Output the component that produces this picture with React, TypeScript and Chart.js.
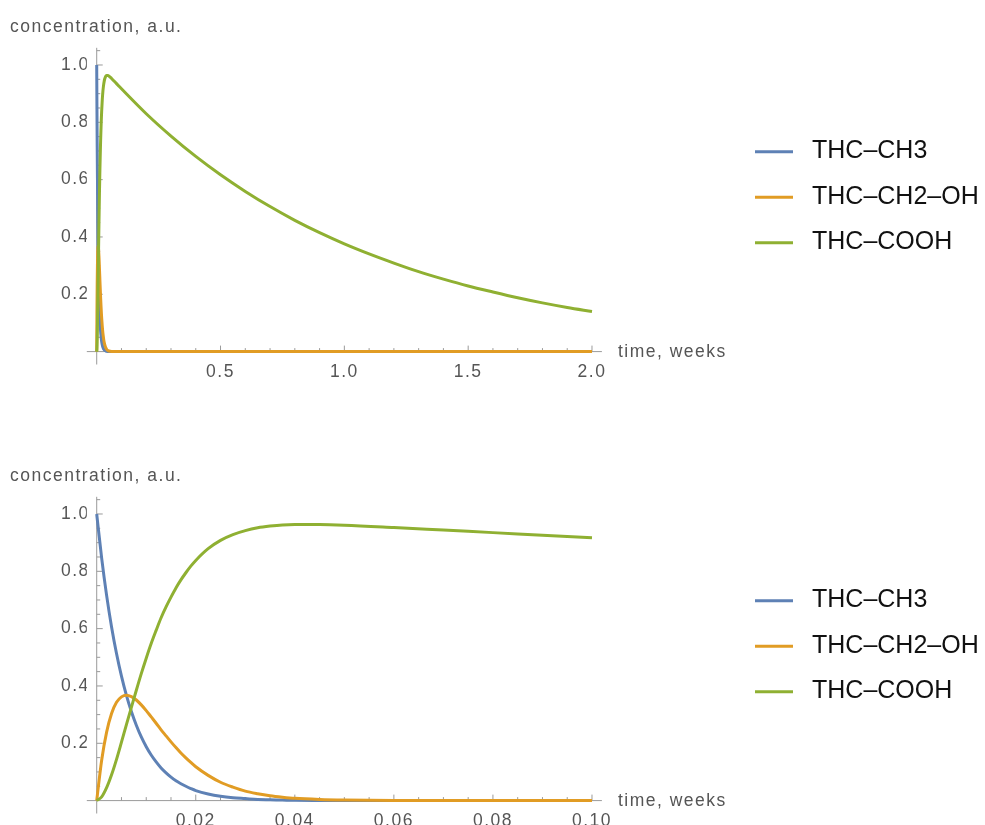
import React, { useEffect, useRef } from "react";
import { Chart, registerables } from "chart.js";

Chart.register(...registerables);

// ---- data ----
const timeWeeks = [
  0, 0.001, 0.002, 0.003, 0.004, 0.005, 0.006, 0.007, 0.008, 0.009, 0.01,
  0.011, 0.012, 0.013, 0.014, 0.015, 0.016, 0.017, 0.018, 0.019, 0.02,
  0.0225, 0.025, 0.0275, 0.03, 0.0325, 0.035, 0.0375, 0.04,
  0.045, 0.05, 0.06, 0.07, 0.08, 0.09, 0.1,
  0.2, 0.3, 0.4, 0.5, 0.6, 0.7, 0.8, 0.9, 1.0, 1.1, 1.2, 1.3, 1.4, 1.5, 1.6,
  1.7, 1.8, 1.9, 2.0,
];
const thcCH3 = [
  1, 0.846, 0.716, 0.606, 0.513, 0.434, 0.367, 0.311, 0.263, 0.222, 0.188,
  0.159, 0.135, 0.114, 0.097, 0.082, 0.069, 0.059, 0.05, 0.042, 0.035,
  0.023, 0.015, 0.01, 0.007, 0.004, 0.003, 0.002, 0.001,
  0.0005, 0.0002, 0, 0, 0, 0, 0,
  0, 0, 0, 0, 0, 0, 0, 0, 0, 0, 0, 0, 0, 0, 0, 0, 0, 0, 0,
];
const thcCH2OH = [
  0, 0.141, 0.239, 0.304, 0.343, 0.362, 0.368, 0.363, 0.351, 0.334, 0.314,
  0.292, 0.27, 0.247, 0.226, 0.205, 0.185, 0.166, 0.149, 0.133, 0.118,
  0.088, 0.064, 0.047, 0.033, 0.024, 0.017, 0.012, 0.008,
  0.004, 0.002, 0.0004, 0.0001, 0, 0, 0,
  0, 0, 0, 0, 0, 0, 0, 0, 0, 0, 0, 0, 0, 0, 0, 0, 0, 0, 0,
];
const thcCOOH = [
  0, 0.013, 0.045, 0.09, 0.144, 0.204, 0.265, 0.325, 0.385, 0.443, 0.497,
  0.548, 0.594, 0.638, 0.676, 0.71, 0.742, 0.77, 0.795, 0.818, 0.838,
  0.879, 0.908, 0.928, 0.942, 0.952, 0.958, 0.962, 0.963,
  0.963, 0.961, 0.953, 0.944, 0.935, 0.926, 0.917,
  0.83, 0.752, 0.681, 0.617, 0.559, 0.506, 0.458, 0.415, 0.376, 0.341,
  0.309, 0.279, 0.253, 0.229, 0.208, 0.188, 0.17, 0.154, 0.14,
];
const seriesLabels = ["THC–CH3", "THC–CH2–OH", "THC–COOH"];
const seriesColors = ["#5E81B5", "#E19C24", "#8FB032"];

const topXTicks = [0.5, 1.0, 1.5, 2.0];
const bottomXTicks = [0.02, 0.04, 0.06, 0.08, 0.1];
const yTicks = [0.2, 0.4, 0.6, 0.8, 1.0];
const yAxisTitle = "concentration, a.u.";
const xAxisTitle = "time, weeks";

// ---- styling ----
const FONT = '"Liberation Sans", Arial, sans-serif';
const GRAY_TEXT = "#555555";
const AXIS_COLOR = "#9a9a9a";

const mmaPlugin = {
  id: "mma",
  beforeDraw(chart: any) {
    (chart.ctx as any).letterSpacing = "1.5px";
  },
  beforeDatasetsDraw(chart: any, _args: any, opts: any) {
    const { ctx, chartArea: ca } = chart;
    const x = chart.scales.x;
    const y = chart.scales.y;
    const x0 = x.getPixelForValue(0);
    const y0 = y.getPixelForValue(0);
    ctx.save();
    ctx.strokeStyle = AXIS_COLOR;
    ctx.lineWidth = 1;
    ctx.beginPath();
    ctx.moveTo(ca.left, y0);
    ctx.lineTo(ca.right, y0);
    ctx.moveTo(x0, ca.top);
    ctx.lineTo(x0, ca.bottom);
    // x ticks (pointing up, into the plot)
    const xMajor: number[] = opts.xTicks;
    for (let i = 1; i * opts.xMinor <= x.max + 1e-12; i++) {
      const v = i * opts.xMinor;
      const isMajor = xMajor.some((m) => Math.abs(m - v) < 1e-9);
      const px = x.getPixelForValue(v);
      ctx.moveTo(px, y0);
      ctx.lineTo(px, y0 - (isMajor ? 6 : 3.5));
    }
    // y ticks (pointing right)
    for (let i = 1; i * 0.05 <= y.max + 1e-12; i++) {
      const v = i * 0.05;
      const isMajor = yTicks.some((m) => Math.abs(m - v) < 1e-9);
      const py = y.getPixelForValue(v);
      ctx.moveTo(x0, py);
      ctx.lineTo(x0 + (isMajor ? 6 : 3.5), py);
    }
    ctx.stroke();
    ctx.restore();
  },
  afterDraw(chart: any) {
    const { ctx, chartArea: ca } = chart;
    const y0 = chart.scales.y.getPixelForValue(0);
    ctx.save();
    (ctx as any).letterSpacing = "1.5px";
    ctx.font = `17.5px ${FONT}`;
    ctx.fillStyle = GRAY_TEXT;
    ctx.textAlign = "left";
    ctx.textBaseline = "alphabetic";
    ctx.fillText(yAxisTitle, 10, 32);
    ctx.fillText(xAxisTitle, ca.right + 16, y0 + 5);
    // legend
    (ctx as any).letterSpacing = "0px";
    ctx.font = `25px ${FONT}`;
    chart.data.datasets.forEach((ds: any, i: number) => {
      const ry = 151.7 + i * 45.5;
      ctx.strokeStyle = ds.borderColor;
      ctx.lineWidth = 3;
      ctx.beginPath();
      ctx.moveTo(755, ry);
      ctx.lineTo(793, ry);
      ctx.stroke();
      ctx.fillStyle = "#111";
      ctx.fillText(ds.label, 812, ry + 6.6);
    });
    ctx.restore();
  },
};

function makeConfig(panel: {
  xMin: number;
  xMax: number;
  xTicks: number[];
  xDecimals: number;
  xMinor: number;
  tMax: number;
}) {
  const idx = timeWeeks
    .map((t, i) => i)
    .filter((i) => timeWeeks[i] <= panel.tMax + 1e-9);
  const series = [thcCH3, thcCH2OH, thcCOOH];
  return {
    type: "line" as const,
    data: {
      datasets: series.map((vals, s) => ({
        label: seriesLabels[s],
        data: idx.map((i) => ({ x: timeWeeks[i], y: vals[i] })),
        borderColor: seriesColors[s],
        backgroundColor: seriesColors[s],
        borderWidth: 3,
        pointRadius: 0,
        fill: false,
        cubicInterpolationMode: "monotone" as const,
        order: 3 - s,
      })),
    },
    options: {
      responsive: false,
      animation: false as const,
      layout: { padding: { left: 46.8, right: 383.1, top: 47.8, bottom: 84.5 } },
      plugins: {
        legend: { display: false },
        tooltip: { enabled: false },
        mma: { xTicks: panel.xTicks, xMinor: panel.xMinor },
      },
      scales: {
        x: {
          type: "linear" as const,
          min: panel.xMin,
          max: panel.xMax,
          position: { y: 0 },
          grid: { display: false },
          border: { display: false },
          afterBuildTicks: (scale: any) => {
            scale.ticks = panel.xTicks.map((v) => ({ value: v }));
          },
          ticks: {
            padding: 2,
            maxRotation: 0,
            autoSkip: false,
            color: GRAY_TEXT,
            font: { family: FONT, size: 17.5 },
            callback: (v: any) => Number(v).toFixed(panel.xDecimals),
          },
        },
        y: {
          type: "linear" as const,
          min: -0.045,
          max: 1.06,
          position: "left" as const,
          grid: { display: false },
          border: { display: false },
          afterFit: (scale: any) => {
            scale.width = 40;
          },
          afterBuildTicks: (scale: any) => {
            scale.ticks = yTicks.map((v) => ({ value: v }));
          },
          ticks: {
            padding: -11,
            color: GRAY_TEXT,
            font: { family: FONT, size: 17.5 },
            callback: (v: any) => Number(v).toFixed(1),
          },
        },
      },
    },
    plugins: [mmaPlugin],
  };
}

export default function App() {
  const topRef = useRef<HTMLCanvasElement | null>(null);
  const botRef = useRef<HTMLCanvasElement | null>(null);

  useEffect(() => {
    const top = new Chart(
      topRef.current as HTMLCanvasElement,
      makeConfig({ xMin: -0.04, xMax: 2.04, xTicks: topXTicks, xDecimals: 1, xMinor: 0.1, tMax: 2.0 }) as any
    );
    const bottom = new Chart(
      botRef.current as HTMLCanvasElement,
      makeConfig({ xMin: -0.002, xMax: 0.102, xTicks: bottomXTicks, xDecimals: 2, xMinor: 0.005, tMax: 0.1 }) as any
    );
    return () => {
      top.destroy();
      bottom.destroy();
    };
  }, []);

  return (
    <div
      style={{
        position: "absolute",
        left: 0,
        top: 0,
        width: 985,
        height: 825,
        overflow: "hidden",
        background: "#fff",
      }}
    >
      <canvas
        ref={topRef}
        width={985}
        height={449}
        style={{ position: "absolute", left: 0, top: 0, width: 985, height: 449 }}
      />
      <canvas
        ref={botRef}
        width={985}
        height={449}
        style={{ position: "absolute", left: 0, top: 449, width: 985, height: 449 }}
      />
    </div>
  );
}
